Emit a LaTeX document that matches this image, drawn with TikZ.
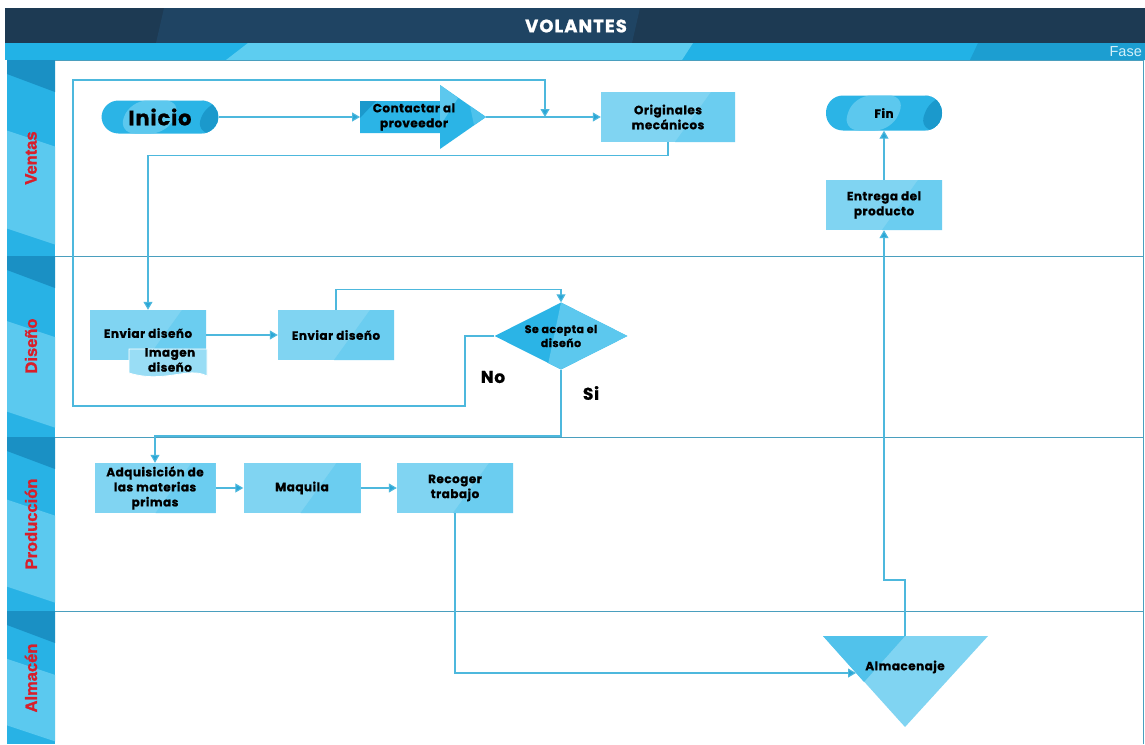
\documentclass[tikz,border=0pt]{standalone}
\usepackage{fontspec}
\setmainfont{Poppins}
\newfontfamily\lanefont{Liberation Sans}
\newfontfamily\lanefontfb{Liberation Sans}[FakeBold=1.6]
\newfontfamily\ttlfont{Poppins}[LetterSpace=6,BoldFeatures={FakeBold=1}]
\newfontfamily\boxfont{Poppins}[LetterSpace=4,BoldFeatures={FakeBold=0.8}]
\usetikzlibrary{arrows.meta,shapes.geometric,calc}
\definecolor{navy}{HTML}{1D3A53}
\definecolor{navyband}{HTML}{1F4463}
\definecolor{fase}{HTML}{22B2E6}
\definecolor{faselight}{HTML}{5DCDF0}
\definecolor{fasedark}{HTML}{1C9ED1}
\definecolor{lanecol}{HTML}{28B2E5}
\definecolor{lanedark}{HTML}{1A90C4}
\definecolor{lanelight}{HTML}{5BC9EF}
\definecolor{frameline}{HTML}{4A9FBE}
\definecolor{conncol}{HTML}{4DB8DD}
\definecolor{tipcol}{HTML}{2AA6D6}
\definecolor{boxlight}{HTML}{80D4F2}
\definecolor{boxdark}{HTML}{6BCDF0}
\definecolor{pill}{HTML}{2BB4E6}
\definecolor{pilllight}{HTML}{5CC8EE}
\definecolor{pilldark}{HTML}{1B99CC}
\definecolor{lanered}{HTML}{D81E2A}
\tikzset{
  x=1pt,y=-1pt,
  conn/.style={draw=conncol,line width=1.1pt,-{Triangle[width=9pt,length=8pt,fill=tipcol]}},
  frame/.style={draw=frameline,line width=0.9pt},
  txt/.style={font=\boxfont\fontsize{12}{15}\selectfont\bfseries,align=center,text=black},
  procbox/.style={rectangle,fill=boxlight,inner sep=0pt,txt,
    path picture={\fill[boxdark] ([xshift=-24pt]path picture bounding box.north east) -- (path picture bounding box.north east) -- (path picture bounding box.south east) -- ([xshift=-60pt]path picture bounding box.south east) -- cycle;}},
  pillbox/.style={rectangle,rounded corners=17pt,fill=pill,inner sep=0pt,txt,
    path picture={\fill[pilllight] ([xshift=-30pt]path picture bounding box.north) -- ([xshift=22pt]path picture bounding box.north) -- ([xshift=8pt]path picture bounding box.south) -- ([xshift=-42pt]path picture bounding box.south) -- cycle;
      \fill[pilldark] ([xshift=-10pt]path picture bounding box.north east) -- (path picture bounding box.north east) -- (path picture bounding box.south east) -- ([xshift=-24pt]path picture bounding box.south east) -- cycle;}},
  lanelabel/.style={rotate=90,font=\lanefontfb\fontsize{16.5}{18}\selectfont\bfseries,text=lanered},
  branch/.style={font=\boxfont\fontsize{17}{19}\selectfont\bfseries,text=black}
}
\begin{document}
\begin{tikzpicture}
\useasboundingbox[fill=white] (0,0) rectangle (1145,744);
% title bar
\fill[navy] (5,8) rectangle (1145,43);
\fill[navyband] (164,8) -- (640,8) -- (632,43) -- (156,43) -- cycle;
\node[font=\ttlfont\fontsize{18}{20}\selectfont\bfseries,text=white] (title) at (576,26) {VOLANTES};
% phase bar
\fill[fase] (5,43) rectangle (1145,60);
\fill[faselight] (248,43) -- (693,43) -- (682,60) -- (226,60) -- cycle;
\fill[fasedark] (978,43) -- (1145,43) -- (1145,60) -- (970,60) -- cycle;
\node[font=\lanefont\fontsize{14.5}{16}\selectfont,text=white!80!fase,anchor=east,inner sep=1pt] (fase) at (1143,52) {Fase};
% lane column
\fill[lanecol] (7,60) rectangle (55,744);
\foreach \t/\b in {60/256,256/437,437/611,611/744}{
  \fill[lanedark] (7,\t) -- (55,\t) -- (55,\t+32) -- (7,\t+14) -- cycle;
  \fill[lanelight] (7,{\t+0.36*(\b-\t)}) -- (55,{\t+0.36*(\b-\t)+16}) -- (55,{\t+0.86*(\b-\t)+16}) -- (7,{\t+0.86*(\b-\t)}) -- cycle;
}
\node[lanelabel] (lv) at (31,158) {Ventas};
\node[lanelabel] (ld) at (31,346) {Diseño};
\node[lanelabel] (lp) at (31,524) {Producción};
\node[lanelabel] (la) at (31,678) {Almacén};
% frame
\draw[frame] (55,60) -- (1143,60);
\draw[frame] (55,256) -- (1143,256);
\draw[frame] (55,437) -- (1143,437);
\draw[frame] (55,611) -- (1143,611);
\draw[frame] (1143,60) -- (1143,744);
% shapes
\node[pillbox,minimum width=117pt,minimum height=33pt,font=\boxfont\fontsize{21}{23}\selectfont\bfseries] (inicio) at (160,117) {Inicio};
\fill[pill] (360,101) -- (440,101) -- (440,85) -- (486,117) -- (440,149) -- (440,133) -- (360,133) -- cycle;
\fill[pilldark] (360,101) -- (376,101) -- (360,118) -- cycle;
\fill[pilllight] (440,85) -- (458,98) -- (440,126) -- cycle;
\fill[pilllight!70!pill] (470,106) -- (486,117) -- (474,125) -- cycle;
\node[txt] (contact) at (414,117) {Contactar al\\proveedor};
\coordinate (contactIn) at (360,117);
\coordinate (contactTip) at (486,117);
\node[procbox,minimum width=134pt,minimum height=50pt] (orig) at (668,117) {Originales\\mecánicos};
\node[pillbox,minimum width=116pt,minimum height=35pt] (fin) at (884,113) {Fin};
\node[procbox,minimum width=116pt,minimum height=50pt] (entrega) at (884,205) {Entrega del\\producto};
\node[procbox,minimum width=116pt,minimum height=50pt] (env1) at (148,335) {\raisebox{4pt}{Enviar diseño}};
\filldraw[fill=boxlight!80!white,draw=white,line width=0.8pt] (129,349) -- (207,349) -- (207,376) .. controls (188,366) and (165,384) .. (129,373) -- cycle;
\node[txt] (imagen) at (170,360) {Imagen\\diseño};
\node[procbox,minimum width=116pt,minimum height=50pt] (env2) at (336,335) {Enviar diseño};
\node[diamond,aspect=2,minimum width=133pt,minimum height=67pt,inner sep=0pt,fill=pill,txt,font=\boxfont\fontsize{11}{14}\selectfont\bfseries,
  path picture={\fill[pilllight] (path picture bounding box.north) -- (path picture bounding box.east) -- (path picture bounding box.south) -- ([xshift=-14pt]path picture bounding box.south) -- cycle;}] (dec) at (561,336) {Se acepta el\\diseño};
\node[procbox,minimum width=121pt,minimum height=50pt] (adq) at (155,488) {Adquisición de\\las materias\\primas};
\node[procbox,minimum width=117pt,minimum height=50pt] (maq) at (302,488) {Maquila};
\node[procbox,minimum width=116pt,minimum height=50pt] (rec) at (455,488) {Recoger\\trabajo};
\fill[boxlight] (823,636) -- (988,636) -- (905,727) -- cycle;
\fill[pill!55!boxlight] (823,636) -- (905,636) -- (864,682) -- cycle;
\node[txt] (alm) at (905,667) {Almacenaje};
\coordinate (almIn) at (856,673);
\coordinate (almTop) at (905,636);
% labels
\node[branch] (no) at (493,377) {No};
\node[branch] (si) at (591,393) {Si};
% connectors
\draw[conn] (inicio.east) -- (contactIn);
\draw[conn] (contactTip) -- (orig.west);
\coordinate (loopA) at (465,406);
\coordinate (loopB) at (73,80);
\coordinate (join) at (545,117);
\draw[conn] (dec.west) -| (loopA) -| (loopB) -| (join);
\draw[conn] (orig.south) -- ++(0,13) -| (env1.north);
\draw[conn] (env1.east) -- (env2.west);
\draw[conn] (env2.north) -- ++(0,-20) -| (dec.north);
\coordinate (siA) at (561,436);
\draw[conn] (dec.south) -- (siA) -| (adq.north);
\draw[conn] (adq.east) -- (maq.west);
\draw[conn] (maq.east) -- (rec.west);
\draw[conn] (rec.south) |- (almIn);
\draw[conn] (almTop) -- ++(0,-56) -| (entrega.south);
\draw[conn] (entrega.north) -- (fin.south);
\end{tikzpicture}
\end{document}
